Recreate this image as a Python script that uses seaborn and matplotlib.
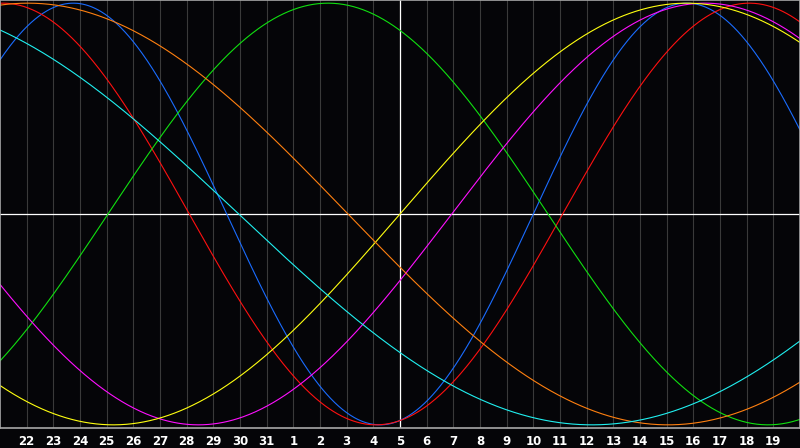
import numpy as np
import pandas as pd
import seaborn as sns
import matplotlib
matplotlib.use("Agg")
import matplotlib.pyplot as plt

# day labels along the bottom (21 at left edge ... 20 at right edge)
days = [21, 22, 23, 24, 25, 26, 27, 28, 29, 30, 31,
        1, 2, 3, 4, 5, 6, 7, 8, 9, 10, 11, 12, 13, 14, 15, 16, 17, 18, 19, 20]
today = 15  # index of the white vertical line (day 5)

# biorhythm cycles: period in days and position of a peak (in day slots)
cycles = ["physical", "emotional", "intellectual", "intuitive",
          "aesthetic", "awareness", "spiritual"]
periods = [23, 28, 33, 38, 43, 48, 53]
peak_at = [2.75, 0.1, 12.3, 26.44, 25.75, 1.05, -4.3]
colors = ["#1a6cff", "#ff1010", "#10e010", "#ff10ff",
          "#ffff10", "#ff8010", "#20f0f0"]

t = np.linspace(0, len(days) - 1, 800)
frames = []
for name, p, pk in zip(cycles, periods, peak_at):
    frames.append(pd.DataFrame({"t": t, "v": np.cos(2 * np.pi * (t - pk) / p), "cycle": name}))
df = pd.concat(frames, ignore_index=True)

sns.set_style("dark")
fig = plt.figure(figsize=(8, 4.48), dpi=100, facecolor="#050508")
ax = fig.add_axes([0, 20 / 448, 1, 428 / 448])
ax.set_facecolor("#050508")

for i in range(1, len(days) - 1):
    ax.axvline(i, color="#3a3a3a", lw=0.8, zorder=0)
ax.axvline(today, color="white", lw=0.9, zorder=1)
ax.axhline(0, color="white", lw=0.9, zorder=1)

sns.lineplot(data=df, x="t", y="v", hue="cycle", palette=dict(zip(cycles, colors)),
             hue_order=cycles, lw=0.8, legend=False, ax=ax, zorder=2)

ax.set_xlim(0, len(days) - 1)
ax.set_ylim(-1.015, 1.015)
ax.set_xticks(range(1, len(days) - 1))
ax.set_xticklabels([str(d) for d in days[1:-1]], color="white",
                   fontsize=8.5, fontweight="bold")
ax.tick_params(axis="x", length=0, pad=5)
ax.set_yticks([])
ax.set_xlabel("")
ax.set_ylabel("")
ax.grid(False)
for s in ax.spines.values():
    s.set_visible(True)
    s.set_color("#a8a8a8")
    s.set_linewidth(1.2)

fig.savefig("out.png", dpi=100, facecolor=fig.get_facecolor())
